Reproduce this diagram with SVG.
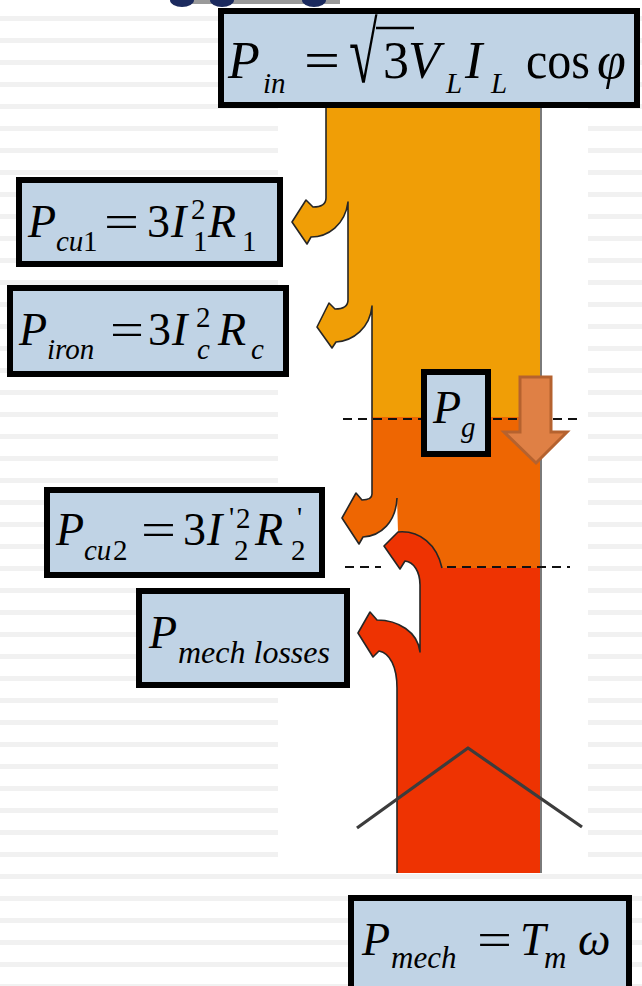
<svg xmlns="http://www.w3.org/2000/svg" width="642" height="986" viewBox="0 0 642 986">
<defs>
<pattern id="stripes" patternUnits="userSpaceOnUse" x="0" y="16" width="642" height="22">
<rect x="0" y="0" width="642" height="5" fill="#F1F1F1"/>
</pattern>
</defs>
<style>
.box{fill:#C0D3E5;stroke:#000;stroke-width:6}
.t{font-family:"Liberation Serif","Times New Roman",serif;fill:#000}
.i{font-style:italic}
.big{font-size:46px}
.top{font-size:52px}
.sub{font-size:29px}
.edge{fill:none;stroke:#262626;stroke-width:1.6;stroke-linejoin:round}
.dash{stroke:#111;stroke-width:2.2;stroke-dasharray:9 6;fill:none}
</style>
<rect width="642" height="986" fill="#fff"/>
<rect width="642" height="986" fill="url(#stripes)"/>
<g id="title-fragment">
<rect x="172" y="0" width="168" height="4" fill="#9a9a9a"/>
<ellipse cx="182" cy="0" rx="12" ry="7" fill="#1b2a5e"/>
<ellipse cx="222" cy="0" rx="12" ry="7" fill="#1b2a5e"/>
<ellipse cx="314" cy="0" rx="12" ry="7" fill="#1b2a5e"/>
</g>
<rect x="278" y="100" width="310" height="774" fill="#fff"/>
<g id="flow-band">
<path id="stage-orange" fill="#F09E06" d="M326,105 L326,198 C326,205 321,207 313,207 L306,200 L292,222 L307,244 L311,237 C328,237 345,225 348,202 L348,300 C348,307 343,309 335,309 L329,303 L317,327 L332,348 L336,342 C353,341 370,328 372,306 L372,419 L541,419 L541,105 Z"/>
<path id="stage-orangered" fill="#EE6602" d="M372,417 L541,417 L541,568 L442,568 C437,545 420,530 398,532 L397,498 C396,522 381,536 363,537 L359,544 L342,518 L356,493 L362,500 C368,500 372,499 372,494 Z"/>
<path id="stage-red" fill="#EE3302" d="M398,532 C420,530 437,545 442,568 L541,568 L541,873 L397,873 L397,688 C397,667 390,653 379,651 L373,657 L358,633 L370,612 L377,620 C398,620 418,632 420,652 L420,585 C420,572 414,562 405,561 L400,569 L384,546 Z"/>
</g>
<g id="connectors">
<path class="edge" d="M326,108 L326,198 C326,205 321,207 313,207 L306,200 L292,222 L307,244 L311,237 C328,237 345,225 348,202 L348,300 C348,307 343,309 335,309 L329,303 L317,327 L332,348 L336,342 C353,341 370,328 372,306 L372,494 C372,499 368,500 362,500 L356,493 L342,518 L359,544 L363,537 C381,536 396,522 397,498"/>
<path class="edge" d="M442,568 C437,545 420,530 398,532 L384,546 L400,569 L405,561 C414,562 420,572 420,585 L420,652 C418,632 398,620 377,620 L370,612 L358,633 L373,657 L379,651 C390,653 397,667 397,688 L397,873"/>
<path d="M541,105 L541,873" stroke="#7a7a7a" stroke-width="2" fill="none"/>
<path class="dash" d="M343,419 L577,419"/>
<path class="dash" d="M345,567 L381,567"/>
<path class="dash" d="M447,567 L570,567"/>
<path d="M357,828 L468,748 L582,827" fill="none" stroke="#3c3c3c" stroke-width="3.2" stroke-linejoin="round"/>
<path d="M520,377 L551,377 L551,432 L567,432 L536,463 L504,432 L520,432 Z" fill="#DF8045" stroke="#B5622F" stroke-width="3"/>
</g>
<g id="node-pin">
<rect class="box" x="221" y="11" width="416" height="94"/>
<text class="t i top" x="228" y="78">P</text>
<text class="t i sub" x="263" y="93">in</text>
<text class="t top" x="304" y="78" textLength="36" lengthAdjust="spacingAndGlyphs">=</text>
<text class="t top" x="0" y="0" transform="translate(349,82) scale(1,1.65)">√</text>
<line x1="376" y1="28" x2="414" y2="28" stroke="#000" stroke-width="2.5"/>
<text class="t top" x="383" y="78">3</text>
<text class="t i top" x="408" y="78">V</text>
<text class="t i sub" x="446" y="93">L</text>
<text class="t i top" x="465" y="78">I</text>
<text class="t i sub" x="491" y="93">L</text>
<text class="t top" x="526" y="78" textLength="64" lengthAdjust="spacingAndGlyphs">cos</text>
<text class="t i top" x="597" y="78">φ</text>
</g>
<g id="node-pcu1">
<rect class="box" x="19" y="180" width="261" height="84"/>
<text class="t i big" x="28" y="237">P</text>
<text class="t i sub" x="56" y="251">cu</text>
<text class="t sub" x="83" y="251">1</text>
<text class="t big" x="104" y="237" textLength="35" lengthAdjust="spacingAndGlyphs">=</text>
<text class="t big" x="147" y="237">3</text>
<text class="t i big" x="171" y="237">I</text>
<text class="t sub" x="191" y="219">2</text>
<text class="t sub" x="193" y="251">1</text>
<text class="t i big" x="208" y="237">R</text>
<text class="t sub" x="242" y="251">1</text>
</g>
<g id="node-piron">
<rect class="box" x="10" y="288" width="276" height="86"/>
<text class="t i big" x="19" y="345">P</text>
<text class="t i sub" x="47" y="359">iron</text>
<text class="t big" x="110" y="345" textLength="34" lengthAdjust="spacingAndGlyphs">=</text>
<text class="t big" x="148" y="345">3</text>
<text class="t i big" x="172" y="345">I</text>
<text class="t sub" x="196" y="327">2</text>
<text class="t i sub" x="197" y="359">c</text>
<text class="t i big" x="218" y="345">R</text>
<text class="t i sub" x="251" y="359">c</text>
</g>
<g id="node-pg">
<rect class="box" x="424" y="372" width="64" height="82"/>
<text class="t i big" x="433" y="423">P</text>
<text class="t i sub" x="461" y="437">g</text>
</g>
<g id="node-pcu2">
<rect class="box" x="47" y="490" width="275" height="85"/>
<text class="t i big" x="56" y="545">P</text>
<text class="t i sub" x="84" y="560">cu</text>
<text class="t sub" x="113" y="560">2</text>
<text class="t big" x="141" y="545" textLength="35" lengthAdjust="spacingAndGlyphs">=</text>
<text class="t big" x="183" y="545">3</text>
<text class="t i big" x="207" y="545">I</text>
<text class="t sub" x="229" y="527">'</text>
<text class="t sub" x="236" y="528">2</text>
<text class="t sub" x="234" y="560">2</text>
<text class="t i big" x="255" y="545">R</text>
<text class="t sub" x="297" y="527">'</text>
<text class="t sub" x="291" y="560">2</text>
</g>
<g id="node-pmechloss">
<rect class="box" x="139" y="591" width="208" height="94"/>
<text class="t i big" x="149" y="648">P</text>
<text class="t i" x="178" y="663" font-size="32">mech losses</text>
</g>
<g id="node-pmech">
<rect class="box" x="351" y="898" width="278" height="94"/>
<text class="t i big" x="362" y="955">P</text>
<text class="t i" x="391" y="968" font-size="31">mech</text>
<text class="t big" x="477" y="955" textLength="35" lengthAdjust="spacingAndGlyphs">=</text>
<text class="t i big" x="520" y="955">T</text>
<text class="t i" x="544" y="968" font-size="31">m</text>
<text class="t i big" x="578" y="955">ω</text>
</g>
</svg>
